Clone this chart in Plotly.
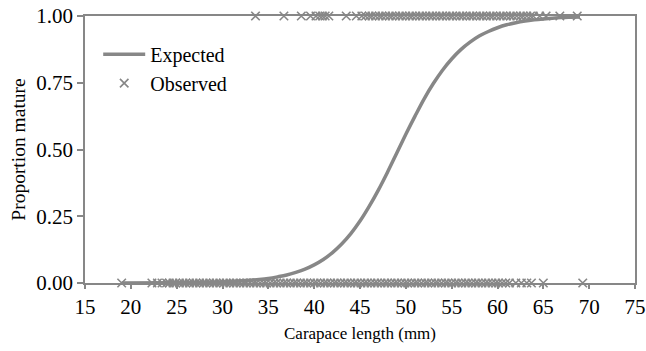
import plotly.graph_objects as go

# Observed maturity (carapace length, mm)
immature_x = [19.0, 22.3, 22.9, 23.4, 23.9, 24.2, 24.6, 24.9, 25.3, 25.7, 26.0, 26.4, 26.8, 27.1, 27.5,
              27.9, 28.2, 28.6, 29.0, 29.3, 29.7, 30.1, 30.4, 30.8, 31.2, 31.5, 31.9, 32.3, 32.6, 33.0,
              33.4, 33.7, 34.1, 34.5, 34.8, 35.2, 35.6, 35.9, 36.3, 36.7, 37.0, 37.4, 37.8, 38.1, 38.5,
              38.9, 39.2, 39.6, 40.0, 40.3, 40.7, 41.1, 41.4, 41.8, 42.2, 42.5, 42.9, 43.3, 43.6, 44.0,
              44.4, 44.7, 45.1, 45.5, 45.8, 46.2, 46.6, 46.9, 47.3, 47.7, 48.0, 48.4, 48.8, 49.1, 49.5,
              49.9, 50.2, 50.6, 51.0, 51.3, 51.7, 52.1, 52.4, 52.8, 53.2, 53.5, 53.9, 54.3, 54.6, 55.0,
              55.4, 55.7, 56.1, 56.5, 56.8, 57.2, 57.6, 57.9, 58.3, 58.7, 59.0, 59.4, 59.8, 60.1, 60.5,
              60.9, 61.3, 62.0, 62.6, 63.2, 63.7, 65.0, 69.3]
mature_x = [33.6, 36.7, 38.6, 39.6, 40.2, 40.6, 40.9, 41.2, 41.6, 43.5, 44.6, 45.2, 45.6, 46.0, 46.3,
            46.7, 47.1, 47.4, 47.8, 48.2, 48.5, 48.9, 49.3, 49.6, 50.0, 50.4, 50.7, 51.1, 51.5, 51.8,
            52.2, 52.6, 52.9, 53.3, 53.7, 54.0, 54.4, 54.8, 55.1, 55.5, 55.9, 56.2, 56.6, 57.0, 57.3,
            57.7, 58.1, 58.4, 58.8, 59.2, 59.5, 59.9, 60.3, 60.6, 61.0, 61.4, 61.7, 62.1, 62.5, 62.8,
            63.2, 63.6, 63.9, 64.6, 65.3, 66.8, 68.7]

# Expected curve
curve_x = [19, 25, 30, 33, 34, 35, 36, 37, 38, 39, 40, 41, 42, 43, 44, 45, 46, 47, 48, 49, 50,
           51, 52, 53, 54, 55, 56, 57, 58, 59, 60, 61, 62, 63, 64, 65, 66, 67, 68, 69]
curve_y = [0.0002, 0.001, 0.004, 0.010, 0.013, 0.017, 0.023, 0.030, 0.040, 0.052, 0.068, 0.088,
           0.114, 0.146, 0.185, 0.232, 0.287, 0.348, 0.415, 0.486, 0.557, 0.625, 0.690, 0.747,
           0.797, 0.839, 0.874, 0.902, 0.925, 0.942, 0.956, 0.967, 0.975, 0.981, 0.9855, 0.989,
           0.992, 0.994, 0.9953, 0.9965]

x_ticks = [15, 20, 25, 30, 35, 40, 45, 50, 55, 60, 65, 70, 75]
y_ticks = [0, 0.25, 0.5, 0.75, 1.0]

GRAY = "#878787"
FONT = "Liberation Serif"

fig = go.Figure()
fig.add_trace(go.Scatter(
    x=immature_x + mature_x,
    y=[0] * len(immature_x) + [1] * len(mature_x),
    mode="markers", name="Observed", cliponaxis=False, legendrank=2,
    marker=dict(symbol="x-thin", size=8.5, line=dict(color=GRAY, width=1.6), color=GRAY),
))
fig.add_trace(go.Scatter(
    x=curve_x, y=curve_y, mode="lines", name="Expected", cliponaxis=False, legendrank=1,
    line=dict(color=GRAY, width=3.5, shape="spline"),
))

fig.update_layout(
    template="none",
    width=646, height=351,
    margin=dict(l=85, r=11, t=16, b=68, autoexpand=False),
    paper_bgcolor="white", plot_bgcolor="white",
    font=dict(family=FONT, size=18, color="black"),
    showlegend=True,
    legend=dict(x=0.024, y=0.93, xanchor="left", yanchor="top", bgcolor="rgba(0,0,0,0)",
                font=dict(family=FONT, size=20), itemwidth=42, tracegroupgap=0),
    xaxis=dict(range=[15, 75], tickvals=x_ticks, ticktext=[str(v) for v in x_ticks],
               tickfont=dict(family=FONT, size=21), automargin=False,
               showline=True, linecolor=GRAY, linewidth=1.5, mirror=True,
               ticks="outside", ticklen=4, tickcolor=GRAY, tickwidth=1.5,
               showgrid=False, zeroline=False,
               title=dict(text="Carapace length (mm)", font=dict(family=FONT, size=17), standoff=9)),
    yaxis=dict(range=[0, 1], tickvals=y_ticks, ticktext=[f"{v:.2f}" for v in y_ticks],
               tickfont=dict(family=FONT, size=21), automargin=False,
               showline=True, linecolor=GRAY, linewidth=1.5, mirror=True,
               ticks="outside", ticklen=6, tickcolor=GRAY, tickwidth=1.5,
               showgrid=False, zeroline=False,
               title=dict(text="Proportion mature", font=dict(family=FONT, size=19.5), standoff=5)),
)

fig.write_html("out.html")
